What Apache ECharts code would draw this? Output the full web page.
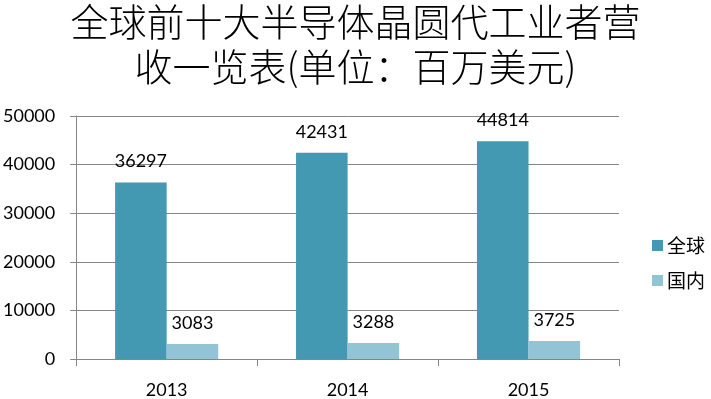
<!DOCTYPE html>
<html><head><meta charset="utf-8">
<script src="https://cdn.jsdelivr.net/npm/echarts@6/dist/echarts.min.js"></script>
<style>html,body{margin:0;padding:0;background:#fff}#c{width:711px;height:399px}</style>
</head><body><div id="c"></div>
<script>
const categories = ['2013', '2014', '2015'];
const globalValues = [36297, 42431, 44814];
const domesticValues = [3083, 3288, 3725];
const seriesNames = ['全球', '国内'];
const titleText = '全球前十大半导体晶圆代工业者营\n收一览表(单位：百万美元)';

const chart = echarts.init(document.getElementById('c'), null, {renderer: 'canvas'});
const labelStyle = {show: true, position: 'top', distance: 12, color: '#000', fontSize: 18, fontFamily: 'Lato, "Open Sans", sans-serif'};
chart.setOption({
  animation: false,
  backgroundColor: '#fff',
  title: {
    text: titleText,
    left: 'center', top: -6,
    textStyle: {fontFamily: '"Noto Sans CJK SC", sans-serif', fontSize: 38, fontWeight: 300, color: '#000', lineHeight: 45}
  },
  legend: {
    orient: 'vertical', left: 647, top: 231,
    icon: 'rect', itemWidth: 11, itemHeight: 11, itemGap: 16,
    textStyle: {fontFamily: '"Noto Sans CJK SC", sans-serif', fontSize: 19, color: '#000', padding: [0,0,0,-1]},
    data: seriesNames
  },
  grid: {left: 76, right: 92, top: 116, bottom: 40, containLabel: false},
  xAxis: {
    type: 'category', data: categories,
    axisLine: {show: true, lineStyle: {color: '#868686', width: 1}},
    axisTick: {show: true, length: 7, alignWithLabel: false, lineStyle: {color: '#868686'}},
    axisLabel: {margin: 22, color: '#000', fontSize: 18, fontFamily: 'Lato, "Open Sans", sans-serif'}
  },
  yAxis: {
    type: 'value', min: 0, max: 50000, interval: 10000,
    axisLine: {show: true, lineStyle: {color: '#868686'}},
    axisTick: {show: true, length: 6, lineStyle: {color: '#868686'}},
    splitLine: {show: true, lineStyle: {color: '#868686', width: 1}},
    axisLabel: {margin: 21, color: '#000', fontSize: 18, fontFamily: 'Lato, "Open Sans", sans-serif',
      formatter: v => String(v)}
  },
  series: [
    {name: seriesNames[0], type: 'bar', data: globalValues, barGap: '0%', barCategoryGap: '43%',
     itemStyle: {color: '#4399B1'}, label: labelStyle},
    {name: seriesNames[1], type: 'bar', data: domesticValues, barGap: '0%', barCategoryGap: '43%',
     itemStyle: {color: '#93C4D5'}, label: labelStyle}
  ]
});
</script></body></html>
